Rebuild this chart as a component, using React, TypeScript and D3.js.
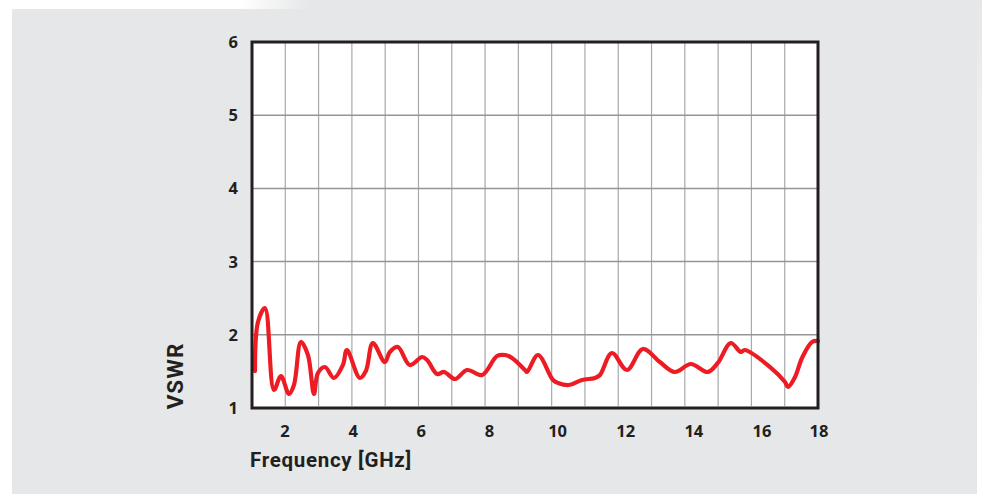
import React from "react";
import * as d3 from "d3";

const freqGHz = [1.09, 1.18, 1.39, 1.66, 1.87, 2.11, 2.26, 2.47, 2.68, 2.86, 2.98, 3.19, 3.46, 3.73, 3.85, 4.24, 4.42, 4.63, 4.99, 5.14, 5.38, 5.74, 6.11, 6.26, 6.56, 6.77, 7.1, 7.46, 7.91, 8.36, 8.6, 8.81, 9.2, 9.26, 9.59, 10.04, 10.19, 10.52, 10.91, 11.3, 11.45, 11.81, 12.26, 12.74, 13.25, 13.7, 14.18, 14.69, 14.99, 15.38, 15.68, 15.8, 16.56, 17.01, 17.1, 17.31, 17.52, 17.82, 18.0];
const vswr = [1.505, 2.175, 2.366, 1.246, 1.437, 1.191, 1.314, 1.902, 1.724, 1.191, 1.478, 1.56, 1.41, 1.587, 1.792, 1.41, 1.505, 1.888, 1.628, 1.765, 1.833, 1.587, 1.697, 1.656, 1.464, 1.492, 1.396, 1.519, 1.451, 1.71, 1.724, 1.683, 1.519, 1.492, 1.724, 1.383, 1.342, 1.314, 1.383, 1.41, 1.451, 1.751, 1.519, 1.806, 1.628, 1.492, 1.601, 1.492, 1.615, 1.888, 1.765, 1.792, 1.56, 1.355, 1.287, 1.424, 1.683, 1.902, 1.915];

const xTicks = [2, 4, 6, 8, 10, 12, 14, 16, 18];
const yTicks = [1, 2, 3, 4, 5, 6];
const xGrid = [2, 3, 4, 5, 6, 7, 8, 9, 10, 11, 12, 13, 14, 15, 16, 17];
const yGrid = [2, 3, 4, 5];

const W = 982;
const H = 495;
const left = 252, right = 818, top = 42, bottom = 408;

export default function App() {
  const x = d3.scaleLinear().domain([1, 18]).range([left, right]);
  const y = d3.scaleLinear().domain([1, 6]).range([bottom, top]);
  // tick labels in the original are typeset on a slightly wider pitch than the grid
  const xLabel = d3.scaleLinear().domain([2, 16]).range([285, 762]);
  const labelX = (t: number) => Math.min(xLabel(t), x(18) + 1);
  const pts: [number, number][] = freqGHz.map((f, i) => [f, vswr[i]]);
  const line = d3
    .line<[number, number]>()
    .x((d) => x(d[0]))
    .y((d) => y(d[1]))
    .curve(d3.curveCatmullRom.alpha(0.5));
  const tickFont = "'Open Sans', 'DejaVu Sans', sans-serif";
  const labelFont = "Roboto, 'Liberation Sans', sans-serif";
  return (
    <svg width={W} height={H} style={{ position: "absolute", left: 0, top: 0 }}>
      <defs>
        <linearGradient id="topfade" x1="0" x2="1" y1="0" y2="0">
          <stop offset="0" stopColor="#ffffff" />
          <stop offset="1" stopColor="#e6e7e8" />
        </linearGradient>
        <linearGradient id="rightfade" x1="0" x2="0" y1="0" y2="1">
          <stop offset="0" stopColor="#e6e7e8" />
          <stop offset="1" stopColor="#ffffff" />
        </linearGradient>
      </defs>
      <rect x={0} y={0} width={W} height={H} fill="#ffffff" />
      <rect x={12} y={9} width={965} height={485} fill="#e6e7e8" />
      <rect x={240} y={0} width={70} height={9} fill="url(#topfade)" />
      <rect x={310} y={0} width={672} height={9} fill="#e6e7e8" />
      <rect x={977} y={0} width={5} height={400} fill="url(#rightfade)" />
      <rect x={left} y={top} width={right - left} height={bottom - top} fill="#ffffff" />
      {xGrid.map((g) => (
        <line key={"xg" + g} x1={x(g)} x2={x(g)} y1={top} y2={bottom - 2} stroke="#a7a9ac" strokeWidth={1.2} />
      ))}
      {yGrid.map((g) => (
        <line key={"yg" + g} x1={left} x2={right} y1={y(g)} y2={y(g)} stroke="#939598" strokeWidth={1.5} />
      ))}
      <path d={line(pts) || ""} fill="none" stroke="#ed1c24" strokeWidth={4.2} strokeLinejoin="round" strokeLinecap="round" />
      <rect x={left} y={top} width={right - left} height={bottom - top} fill="none" stroke="#231f20" strokeWidth={3} />
      {yTicks.map((t) => (
        <text key={"yt" + t} x={238} y={y(t)} dy="0.36em" textAnchor="end" fontFamily={tickFont} fontWeight={700} fontSize={16.5} fill="#231f20">
          {t}
        </text>
      ))}
      {xTicks.map((t) => (
        <text key={"xt" + t} x={labelX(t)} y={437} textAnchor="middle" fontFamily={tickFont} fontWeight={700} fontSize={16.5} fill="#231f20">
          {t}
        </text>
      ))}
      <text x={250} y={467} fontFamily={labelFont} fontWeight={700} fontSize={20.5} letterSpacing={0.7} fill="#231f20">
        Frequency [GHz]
      </text>
      <text transform={`translate(183,${376}) rotate(-90)`} textAnchor="middle" fontFamily={labelFont} fontWeight={700} fontSize={22.5} letterSpacing={1} fill="#231f20">
        VSWR
      </text>
    </svg>
  );
}
